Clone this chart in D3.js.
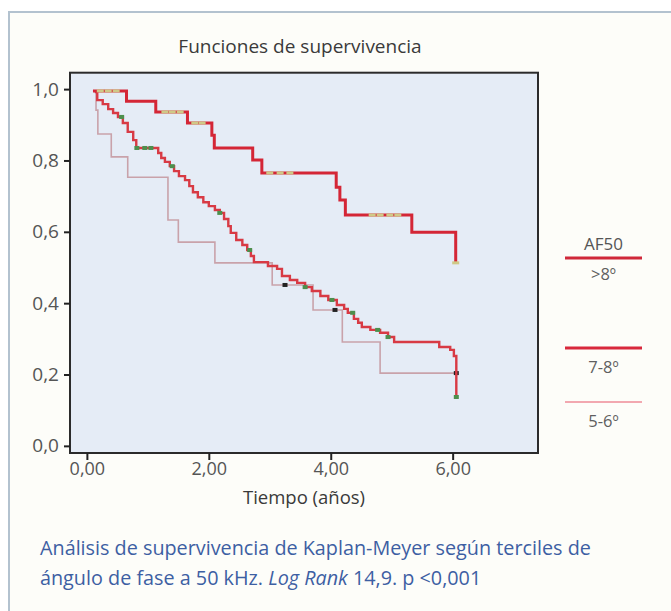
<!DOCTYPE html>
<html><head><meta charset="utf-8">
<script src="https://cdn.jsdelivr.net/npm/d3@7"></script>
<style>
body{margin:0;background:#fff}
svg{display:block}
text{font-family:"Open Sans",sans-serif}
</style></head>
<body><svg id="c" width="671" height="611"></svg>
<script>
// ---------- data ----------
const xTicks = [0, 2, 4, 6];
const xTickLabels = ["0,00", "2,00", "4,00", "6,00"];
const yTicks = [0, 0.2, 0.4, 0.6, 0.8, 1.0];
const yTickLabels = ["0,0", "0,2", "0,4", "0,6", "0,8", "1,0"];

const seriesNames = [">8º", "7-8º", "5-6º"];
const legendTitle = "AF50";

// group >8º
const g1Times = [0.10, 0.65, 1.13, 1.65, 2.05, 2.09, 2.72, 2.87, 4.09, 4.15, 4.24, 5.33, 6.05];
const g1Surv  = [0.995, 0.966, 0.936, 0.905, 0.871, 0.835, 0.801, 0.765, 0.725, 0.689, 0.647, 0.599, 0.513];
const g1Censor = [0.22, 0.35, 0.48, 1.28, 1.40, 1.53, 1.77, 1.89, 3.00, 3.17, 3.33, 4.68, 4.81, 4.97, 5.10, 6.05];

// group 7-8º
const g2Times = [0.13,0.17,0.26,0.35,0.43,0.51,0.59,0.67,0.76,0.81,1.17,1.22,1.28,1.36,1.43,1.51,1.61,1.68,1.74,1.82,
  1.91,2.00,2.10,2.18,2.25,2.32,2.36,2.45,2.55,2.63,2.69,2.74,2.97,3.12,3.20,3.33,3.45,3.58,3.69,3.83,
  3.96,4.10,4.22,4.28,4.38,4.45,4.51,4.65,4.81,4.94,5.04,5.78,5.96,6.02,6.06];
const g2Surv = [0.992,0.969,0.958,0.944,0.933,0.922,0.905,0.880,0.857,0.835,0.821,0.807,0.796,0.784,0.770,0.756,0.745,0.728,0.711,0.697,
  0.683,0.672,0.661,0.653,0.636,0.616,0.597,0.577,0.563,0.549,0.532,0.515,0.504,0.496,0.476,0.465,0.457,0.445,0.434,0.420,
  0.409,0.395,0.384,0.373,0.356,0.345,0.333,0.325,0.317,0.305,0.291,0.277,0.269,0.252,0.137];
const g2Censor = [0.57, 0.82, 0.95, 1.05, 1.40, 2.18, 2.67, 3.58, 4.02, 4.36, 4.77, 4.94, 6.06];

// group 5-6º
const g3Times = [0.10, 0.15, 0.18, 0.40, 0.67, 1.33, 1.50, 2.10, 3.04, 3.71, 4.19, 4.81];
const g3Surv  = [0.995, 0.941, 0.874, 0.810, 0.753, 0.633, 0.571, 0.513, 0.451, 0.381, 0.291, 0.204];
const g3Censor = [3.25, 4.07, 6.06];

const followUpEnd = [6.05, 6.06, 6.06];

const chartTitle = "Funciones de supervivencia";
const xTitle = "Tiempo (años)";

// ---------- styles ----------
const lineColors = ["#d42636", "#d83a44", "#c9a2aa"];
const lineWidths = [3, 2.4, 1.6];
const censorColors = ["#cfc987", "#4d8f4d", "#222"];
const legendColors = ["#d0283a", "#d8283c", "#f2a8b0"];
const legendWidths = [3, 3, 2];

const svg = d3.select("#c");

// outer panel
svg.append("rect").attr("x", 9).attr("y", 12).attr("width", 700).attr("height", 640)
  .attr("fill", "#fdfdf9").attr("stroke", "#b3c2cf").attr("stroke-width", 2);

const x = d3.scaleLinear().domain([-0.277, 7.40]).range([70, 538]);
const y = d3.scaleLinear().domain([-0.02, 1.046]).range([453, 72.7]);

// plot background
svg.append("rect").attr("x", x.range()[0]).attr("y", y.range()[1])
  .attr("width", x.range()[1] - x.range()[0]).attr("height", y.range()[0] - y.range()[1])
  .attr("fill", "#e5ecf6");

function survAt(times, surv, t) {
  let s = surv[0];
  for (let i = 0; i < times.length; i++) if (times[i] <= t + 1e-9) s = surv[i];
  return s;
}

const series = [
  {times: g3Times, surv: g3Surv, censor: g3Censor, i: 2},
  {times: g2Times, surv: g2Surv, censor: g2Censor, i: 1},
  {times: g1Times, surv: g1Surv, censor: g1Censor, i: 0}
];

const line = d3.line().x(d => x(d[0])).y(d => y(d[1])).curve(d3.curveStepAfter);

series.forEach(s => {
  const pts = s.times.map((t, k) => [t, s.surv[k]]);
  const end = followUpEnd[s.i];
  if (end > s.times[s.times.length - 1]) pts.push([end, s.surv[s.surv.length - 1]]);
  svg.append("path").datum(pts).attr("d", line)
    .attr("fill", "none").attr("stroke", lineColors[s.i]).attr("stroke-width", lineWidths[s.i])
    .attr("stroke-linejoin", "miter");
  svg.append("g").selectAll("rect").data(s.censor).join("rect")
    .attr("x", t => x(t) - (s.i === 0 ? 3.5 : 2.5))
    .attr("y", t => y(survAt(s.times, s.surv, t)) - (s.i === 0 ? 1.5 : 2))
    .attr("width", s.i === 0 ? 7 : 5)
    .attr("height", s.i === 0 ? 3 : 4)
    .attr("fill", censorColors[s.i]);
});

// plot frame
svg.append("rect").attr("x", x.range()[0]).attr("y", y.range()[1])
  .attr("width", x.range()[1] - x.range()[0]).attr("height", y.range()[0] - y.range()[1])
  .attr("fill", "none").attr("stroke", "#2b2b2b").attr("stroke-width", 2);

// axes
const yAxis = d3.axisLeft(y).tickValues(yTicks).tickFormat((d, i) => yTickLabels[i]).tickSize(6).tickPadding(5);
svg.append("g").attr("transform", `translate(${x.range()[0]},0)`).call(yAxis)
  .call(g => g.select(".domain").remove())
  .call(g => g.selectAll("line").attr("stroke", "#222").attr("stroke-width", 2))
  .call(g => g.selectAll("text").attr("fill", "#555").style("font-size", "19px").attr("font-family", null));

const xAxis = d3.axisBottom(x).tickValues(xTicks).tickFormat((d, i) => xTickLabels[i]).tickSize(7).tickPadding(2);
svg.append("g").attr("transform", `translate(0,${y.range()[0]})`).call(xAxis)
  .call(g => g.select(".domain").remove())
  .call(g => g.selectAll("line").attr("stroke", "#222").attr("stroke-width", 2))
  .call(g => g.selectAll("text").attr("fill", "#555").style("font-size", "18px").attr("font-family", null));

const cx = (x.range()[0] + x.range()[1]) / 2;
svg.append("text").attr("x", cx - 4).attr("y", 53).attr("text-anchor", "middle")
  .attr("fill", "#3a3a3a").style("font-size", "19px").text(chartTitle);
svg.append("text").attr("x", cx).attr("y", 504).attr("text-anchor", "middle")
  .attr("fill", "#3a3a3a").style("font-size", "18.5px").text(xTitle);

// legend
const lx0 = 565, lx1 = 642, lcx = (lx0 + lx1) / 2;
svg.append("text").attr("x", lcx).attr("y", 250).attr("text-anchor", "middle")
  .attr("fill", "#555").style("font-size", "17px").text(legendTitle);
const legendLineY = [258, 348, 402];
const legendTextY = [280, 373, 427];
seriesNames.forEach((n, i) => {
  svg.append("line").attr("x1", lx0).attr("x2", lx1).attr("y1", legendLineY[i]).attr("y2", legendLineY[i])
    .attr("stroke", legendColors[i]).attr("stroke-width", legendWidths[i]);
  svg.append("text").attr("x", lcx).attr("y", legendTextY[i]).attr("text-anchor", "middle")
    .attr("fill", "#5f5f5f").style("font-size", "16.5px").text(n);
});

// caption
const cap = svg.append("g").attr("fill", "#3d5fa3").style("font-size", "19.8px");
cap.append("text").attr("x", 40).attr("y", 555).text("Análisis de supervivencia de Kaplan-Meyer según terciles de");
const l2 = cap.append("text").attr("x", 40).attr("y", 585);
l2.append("tspan").text("ángulo de fase a 50 kHz. ");
l2.append("tspan").attr("font-style", "italic").text("Log Rank");
l2.append("tspan").text(" 14,9. p <0,001");
</script></body></html>
